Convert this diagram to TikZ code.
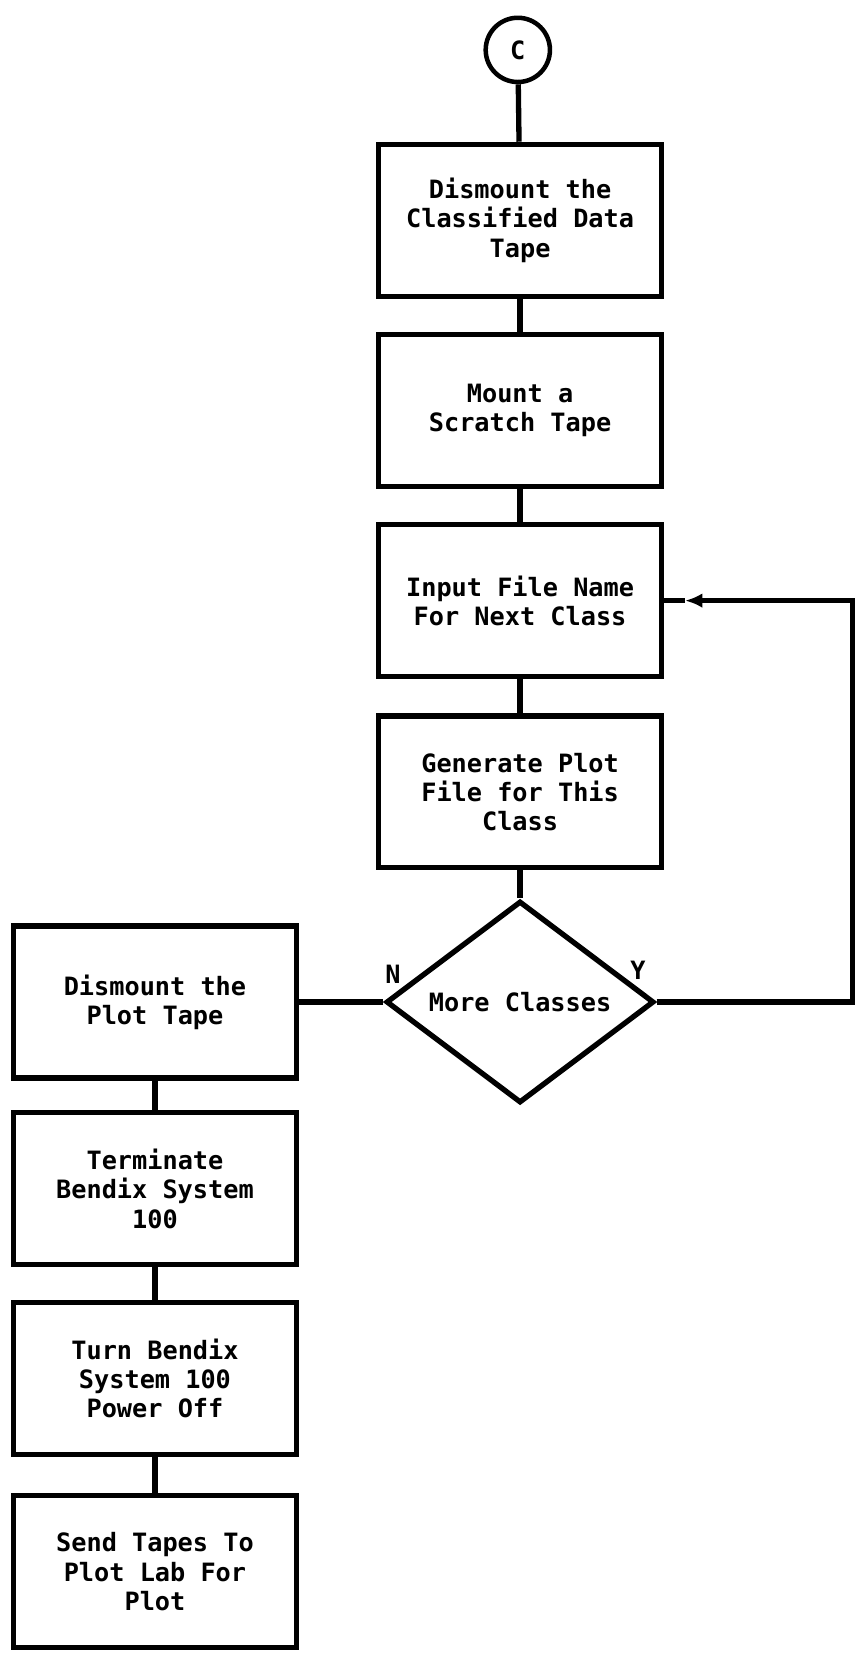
\documentclass[tikz,border=0pt]{standalone}
\usepackage{fontspec}
\setmainfont{DejaVu Sans Mono}
\usetikzlibrary{shapes.geometric,arrows.meta}
\begin{document}
\begin{tikzpicture}[x=1cm,y=1cm,
  box/.style={draw, line width=4pt, align=center, minimum width=7.49cm, minimum height=4.02cm, inner sep=0pt, font=\bfseries\fontsize{19}{22}\selectfont},
  decision/.style={draw, diamond, line width=4pt, minimum width=7.09cm, minimum height=4.82cm, inner sep=0pt, font=\bfseries\fontsize{19}{22}\selectfont},
  conn/.style={line width=4pt},
  lbl/.style={font=\bfseries\fontsize{19}{22}\selectfont}]
\useasboundingbox (0,0) rectangle (22.73,-43.84);
\node[draw, circle, line width=3.4pt, minimum size=1.7cm, inner sep=0pt, font=\bfseries\fontsize{19}{22}\selectfont] (c) at (13.7,-1.32) {C};
\node[box] (dct) at (13.76,-5.83) {Dismount the\\Classified Data\\Tape};
\node[box] (mst) at (13.76,-10.86) {Mount a\\Scratch Tape};
\node[box] (inp) at (13.76,-15.89) {Input File Name\\For Next Class};
\node[box] (gen) at (13.76,-20.95) {Generate Plot\\File for This\\Class};
\node[decision] (more) at (13.76,-26.51) {More Classes};
\node[box] (dpt) at (4.10,-26.51) {Dismount the\\Plot Tape};
\node[box] (term) at (4.10,-31.45) {Terminate\\Bendix System\\100};
\node[box] (off) at (4.10,-36.47) {Turn Bendix\\System 100\\Power Off};
\node[box] (send) at (4.10,-41.58) {Send Tapes To\\Plot Lab For\\Plot};
\node[lbl] (nl) at (10.40,-25.77) {N};
\node[lbl] (yl) at (16.88,-25.66) {Y};
\coordinate (yr) at (22.55,-26.51);
\coordinate (tip) at ([xshift=0.55cm]inp.east);
\draw[conn] (c) -- (dct);
\draw[conn] (dct) -- (mst);
\draw[conn] (mst) -- (inp);
\draw[conn] (inp) -- (gen);
\draw[conn] (gen) -- (more);
\draw[conn] (more) -- (dpt);
\draw[conn] (dpt) -- (term);
\draw[conn] (term) -- (off);
\draw[conn] (off) -- (send);
\draw[conn, -{Latex[length=13pt,width=11pt]}] (more.east) -- (yr) |- (tip);
\draw[conn] (tip) -- (inp.east);
\end{tikzpicture}
\end{document}
